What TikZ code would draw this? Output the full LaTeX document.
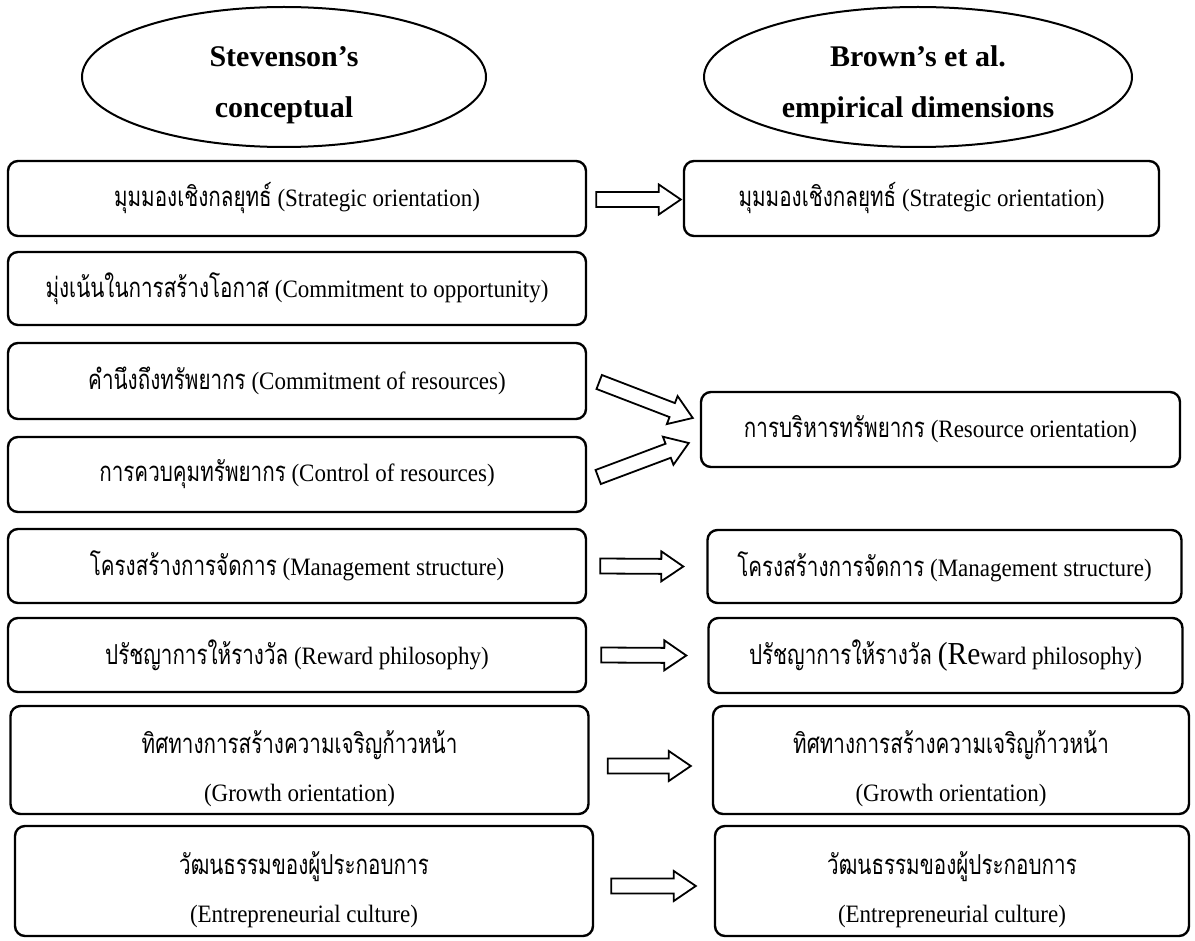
\documentclass[tikz,border=0pt]{standalone}
\usepackage{fontspec}
\setmainfont[FakeStretch=0.92]{Liberation Serif}
\newfontfamily\headfont{Liberation Serif}
\newfontfamily\thaifont[Script=Thai,Scale=1.1,FakeStretch=0.75]{Loma}
\newcommand{\thaitxt}[1]{{\thaifont #1}}
\newcommand{\topgap}{\rule{0pt}{20pt}}
\usetikzlibrary{calc,shapes.geometric}

% hollow block arrow from #1 to #2
\newcommand{\fatarrow}[2]{%
  \path let \p1=#1, \p2=#2,
    \n1={atan2(\y2-\y1,\x2-\x1)}, \n2={veclen(\x2-\x1,\y2-\y1)} in
    \pgfextra{\xdef\fatx{\x1}\xdef\faty{\y1}\xdef\fatang{\n1}\xdef\fatlen{\n2}};
  \draw[fat,shift={(\fatx,\faty)},rotate=\fatang]
    (0pt,3.75pt) -- (\fatlen-11pt,3.75pt) -- (\fatlen-11pt,7.5pt) -- (\fatlen,0pt)
    -- (\fatlen-11pt,-7.5pt) -- (\fatlen-11pt,-3.75pt) -- (0pt,-3.75pt) -- cycle;}

\begin{document}
\begin{tikzpicture}[x=0.5pt,y=-0.5pt,
    box/.style={rectangle,draw,rounded corners=5pt,line width=1.2pt,align=center,
      minimum height=37.5pt,font=\fontsize{12.5pt}{15pt}\selectfont},
    lbox/.style={box,minimum width=289pt},
    rbox/.style={box,minimum width=237pt},
    head/.style={ellipse,draw,line width=1pt,minimum height=70pt},
    headtxt/.style={align=center,inner sep=0pt,
      font=\headfont\bfseries\fontsize{15pt}{25.5pt}\selectfont},
    fat/.style={draw,line width=0.9pt,line join=miter,fill=white}]
  \useasboundingbox (0,0) rectangle (1195,941);

  % Stevenson's conceptual
  \node[head,minimum width=202pt] (stev) at (284,77) {};
  \node[headtxt] (stevtxt) at ($(stev.center)+(0,8)$) {Stevenson’s\\conceptual};
  \node[lbox] (strat1) at (297,198.5) {\thaitxt{มุมมองเชิงกลยุทธ์} (Strategic orientation)};
  \node[lbox,minimum height=36.5pt] (opp1) at (297,288.5) {\thaitxt{มุ่งเน้นในการสร้างโอกาส} (Commitment to opportunity)};
  \node[lbox,minimum height=38pt] (comres1) at (297,381) {\thaitxt{คำนึงถึงทรัพยากร} (Commitment of resources)};
  \node[lbox] (ctrl1) at (297,474.5) {\thaitxt{การควบคุมทรัพยากร} (Control of resources)};
  \node[lbox,minimum height=37pt] (mgmt1) at (297,566) {\thaitxt{โครงสร้างการจัดการ} (Management structure)};
  \node[lbox,minimum height=37pt] (reward1) at (297,655) {\thaitxt{ปรัชญาการให้รางวัล} (Reward philosophy)};
  \node[lbox,minimum height=54pt] (growth1) at (299.5,760) {\topgap\thaitxt{ทิศทางการสร้างความเจริญก้าวหน้า}\\[9pt](Growth orientation)};
  \node[lbox,minimum height=55pt] (cult1) at (304,881) {\topgap\thaitxt{วัฒนธรรมของผู้ประกอบการ}\\[9pt](Entrepreneurial culture)};

  % Brown's et al. empirical dimensions
  \node[head,minimum width=214pt] (brown) at (918,77) {};
  \node[headtxt] (browntxt) at ($(brown.center)+(0,8)$) {Brown’s et al.\\empirical dimensions};
  \node[rbox,minimum width=237.5pt] (strat2) at (921.5,198.5) {\thaitxt{มุมมองเชิงกลยุทธ์} (Strategic orientation)};
  \node[rbox,minimum width=239.5pt] (res2) at (940.5,429.5) {\thaitxt{การบริหารทรัพยากร} (Resource orientation)};
  \node[rbox,minimum height=36.5pt] (mgmt2) at (944.5,566.5) {\thaitxt{โครงสร้างการจัดการ} (Management structure)};
  \node[rbox] (reward2) at (945.5,655.5) {\thaitxt{ปรัชญาการให้รางวัล} {\fontsize{16pt}{15pt}\selectfont(Re}ward philosophy)};
  \node[rbox,minimum width=238pt,minimum height=54pt] (growth2) at (951,760) {\topgap\thaitxt{ทิศทางการสร้างความเจริญก้าวหน้า}\\[9pt](Growth orientation)};
  \node[rbox,minimum height=55pt] (cult2) at (952,881) {\topgap\thaitxt{วัฒนธรรมของผู้ประกอบการ}\\[9pt](Entrepreneurial culture)};

  % block arrows
  \fatarrow{($(strat1.east)+(9,1)$)}{($(strat2.west)+(-2,1)$)}
  \fatarrow{($(comres1.east)+(12,1)$)}{($(res2.west)+(-7,-11.5)$)}
  \fatarrow{($(ctrl1.east)+(11,2.5)$)}{($(res2.west)+(-11,13.5)$)}
  \fatarrow{($(mgmt1.east)+(13,0)$)}{($(mgmt2.west)+(-23,0)$)}
  \fatarrow{($(reward1.east)+(14,0)$)}{($(reward2.west)+(-21,0)$)}
  \fatarrow{($(growth1.east)+(18,6)$)}{($(growth2.west)+(-21,6)$)}
  \fatarrow{($(cult1.east)+(17,5)$)}{($(cult2.west)+(-18,5)$)}
\end{tikzpicture}
\end{document}
